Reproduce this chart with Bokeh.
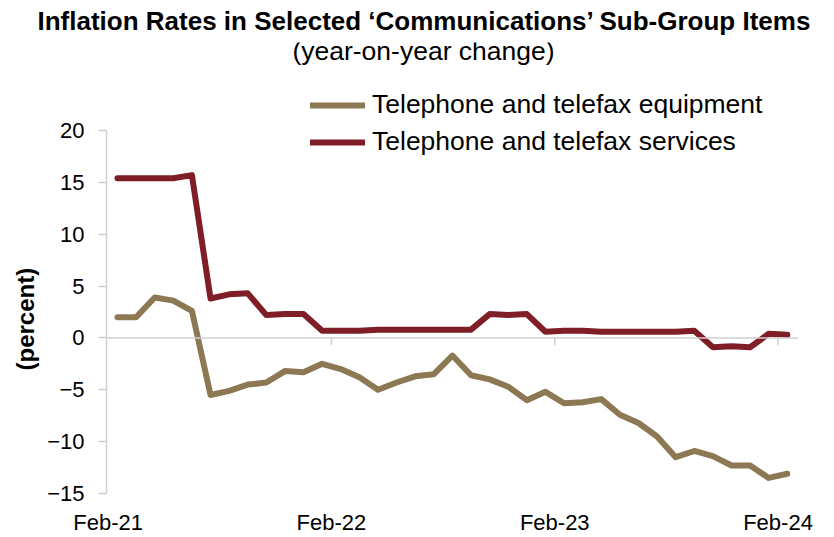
from bokeh.plotting import figure
from bokeh.models import (Range1d, FixedTicker, Title, Legend, LegendItem, Span, Label)
from bokeh.embed import file_html
from bokeh.resources import INLINE

# ---- data ----
months = ["Feb-21", "Mar-21", "Apr-21", "May-21", "Jun-21", "Jul-21", "Aug-21", "Sep-21",
          "Oct-21", "Nov-21", "Dec-21", "Jan-22", "Feb-22", "Mar-22", "Apr-22", "May-22",
          "Jun-22", "Jul-22", "Aug-22", "Sep-22", "Oct-22", "Nov-22", "Dec-22", "Jan-23",
          "Feb-23", "Mar-23", "Apr-23", "May-23", "Jun-23", "Jul-23", "Aug-23", "Sep-23",
          "Oct-23", "Nov-23", "Dec-23", "Jan-24", "Feb-24"]
equipment = [2.0, 2.0, 3.9, 3.6, 2.6, -5.5, -5.1, -4.5, -4.3, -3.2, -3.3, -2.5,
             -3.0, -3.8, -5.0, -4.3, -3.7, -3.5, -1.7, -3.6, -4.0, -4.7, -6.0, -5.2,
             -6.3, -6.2, -5.9, -7.4, -8.2, -9.5, -11.5, -10.9, -11.4, -12.3, -12.3, -13.5,
             -13.1]
services = [15.4, 15.4, 15.4, 15.4, 15.7, 3.8, 4.2, 4.3, 2.2, 2.3, 2.3, 0.7,
            0.7, 0.7, 0.8, 0.8, 0.8, 0.8, 0.8, 0.8, 2.3, 2.2, 2.3, 0.6,
            0.7, 0.7, 0.6, 0.6, 0.6, 0.6, 0.6, 0.7, -0.9, -0.8, -0.9, 0.4,
            0.3]
tick_labels = ["Feb-21", "Feb-22", "Feb-23", "Feb-24"]
y_ticks = [-15, -10, -5, 0, 5, 10, 15, 20]
series_names = ["Telephone and telefax equipment", "Telephone and telefax services"]

x = list(range(len(months)))
tick_idx = [months.index(t) for t in tick_labels]
tick_pos = [i - 0.5 for i in tick_idx]

FONT = "Liberation Sans"
TAN = "#8C7853"
RED = "#7F1E27"
AXIS_GRAY = "#D0D0D0"

p = figure(width=834, height=537, output_backend="svg", toolbar_location=None,
           x_range=Range1d(-0.59, 36.6), y_range=Range1d(-15, 28.485),
           min_border_left=106, min_border_right=36, min_border_bottom=44,
           min_border_top=10)
p.outline_line_color = None
p.xgrid.grid_line_color = None
p.ygrid.grid_line_color = None
p.background_fill_color = "white"

# title (panel above) and subtitle (label at top of the plot area)
ttl = Title(text="Inflation Rates in Selected \u2018Communications\u2019 Sub-Group Items",
            align="left", offset=-69, vertical_align="top", text_font=FONT,
            text_line_height=1.0,
            text_font_size="26px", text_font_style="bold", text_color="black",
            standoff=10)
p.add_layout(ttl, "above")
sub = Label(x=317, y=443, x_units="screen", y_units="screen",
            text="(year-on-year change)", text_align="center", text_baseline="middle",
            text_font=FONT, text_font_size="26.5px", text_color="black")
p.add_layout(sub)

# y axis
ya = p.yaxis[0]
ya.ticker = FixedTicker(ticks=y_ticks)
ya.bounds = (-15, 20)
ya.axis_line_color = AXIS_GRAY
ya.axis_line_width = 1.5
ya.major_tick_line_color = AXIS_GRAY
ya.major_tick_line_width = 1.5
ya.major_tick_out = 8
ya.major_tick_in = 0
ya.minor_tick_line_color = None
ya.major_label_text_font = FONT
ya.major_label_text_font_size = "22px"
ya.major_label_text_color = "black"
ya.major_label_standoff = 14

# y-axis title as a left-side panel so it can be centred on the -15..20 span
ylab = Title(text="(percent)", align="left", offset=123, vertical_align="middle",
             text_font=FONT, text_font_size="24px", text_font_style="bold",
             text_color="black", text_line_height=1.0, standoff=10)
p.add_layout(ylab, "left")

# x axis: labels only at the bottom
xa = p.xaxis[0]
xa.ticker = FixedTicker(ticks=tick_pos)
xa.major_label_overrides = {tp: lab for tp, lab in zip(tick_pos, tick_labels)}
xa.axis_line_color = None
xa.major_tick_line_color = None
xa.minor_tick_line_color = None
xa.major_label_text_font = FONT
xa.major_label_text_font_size = "22px"
xa.major_label_text_color = "black"
xa.major_label_standoff = 10

# zero line with tick marks
p.add_layout(Span(location=0, dimension="width", line_color=AXIS_GRAY, line_width=1.5))
p.segment(x0=tick_pos[1:], y0=[0] * 3, x1=tick_pos[1:], y1=[-0.7] * 3,
          line_color=AXIS_GRAY, line_width=1.5)

r1 = p.line(x, equipment, line_color=TAN, line_width=6, line_join="round", line_cap="round")
r2 = p.line(x, services, line_color=RED, line_width=6, line_join="round", line_cap="round")

legend = Legend(items=[LegendItem(label=series_names[0], renderers=[r1]),
                       LegendItem(label=series_names[1], renderers=[r2])],
                location=(204, 336), orientation="vertical",
                label_text_font=FONT, label_text_font_size="26.5px", label_text_color="black",
                glyph_width=55, glyph_height=30, label_height=30, label_standoff=7,
                spacing=6, padding=0, margin=0, border_line_color=None,
                background_fill_alpha=0)
p.add_layout(legend, "center")

open("out.html", "w").write(file_html(p, INLINE))
